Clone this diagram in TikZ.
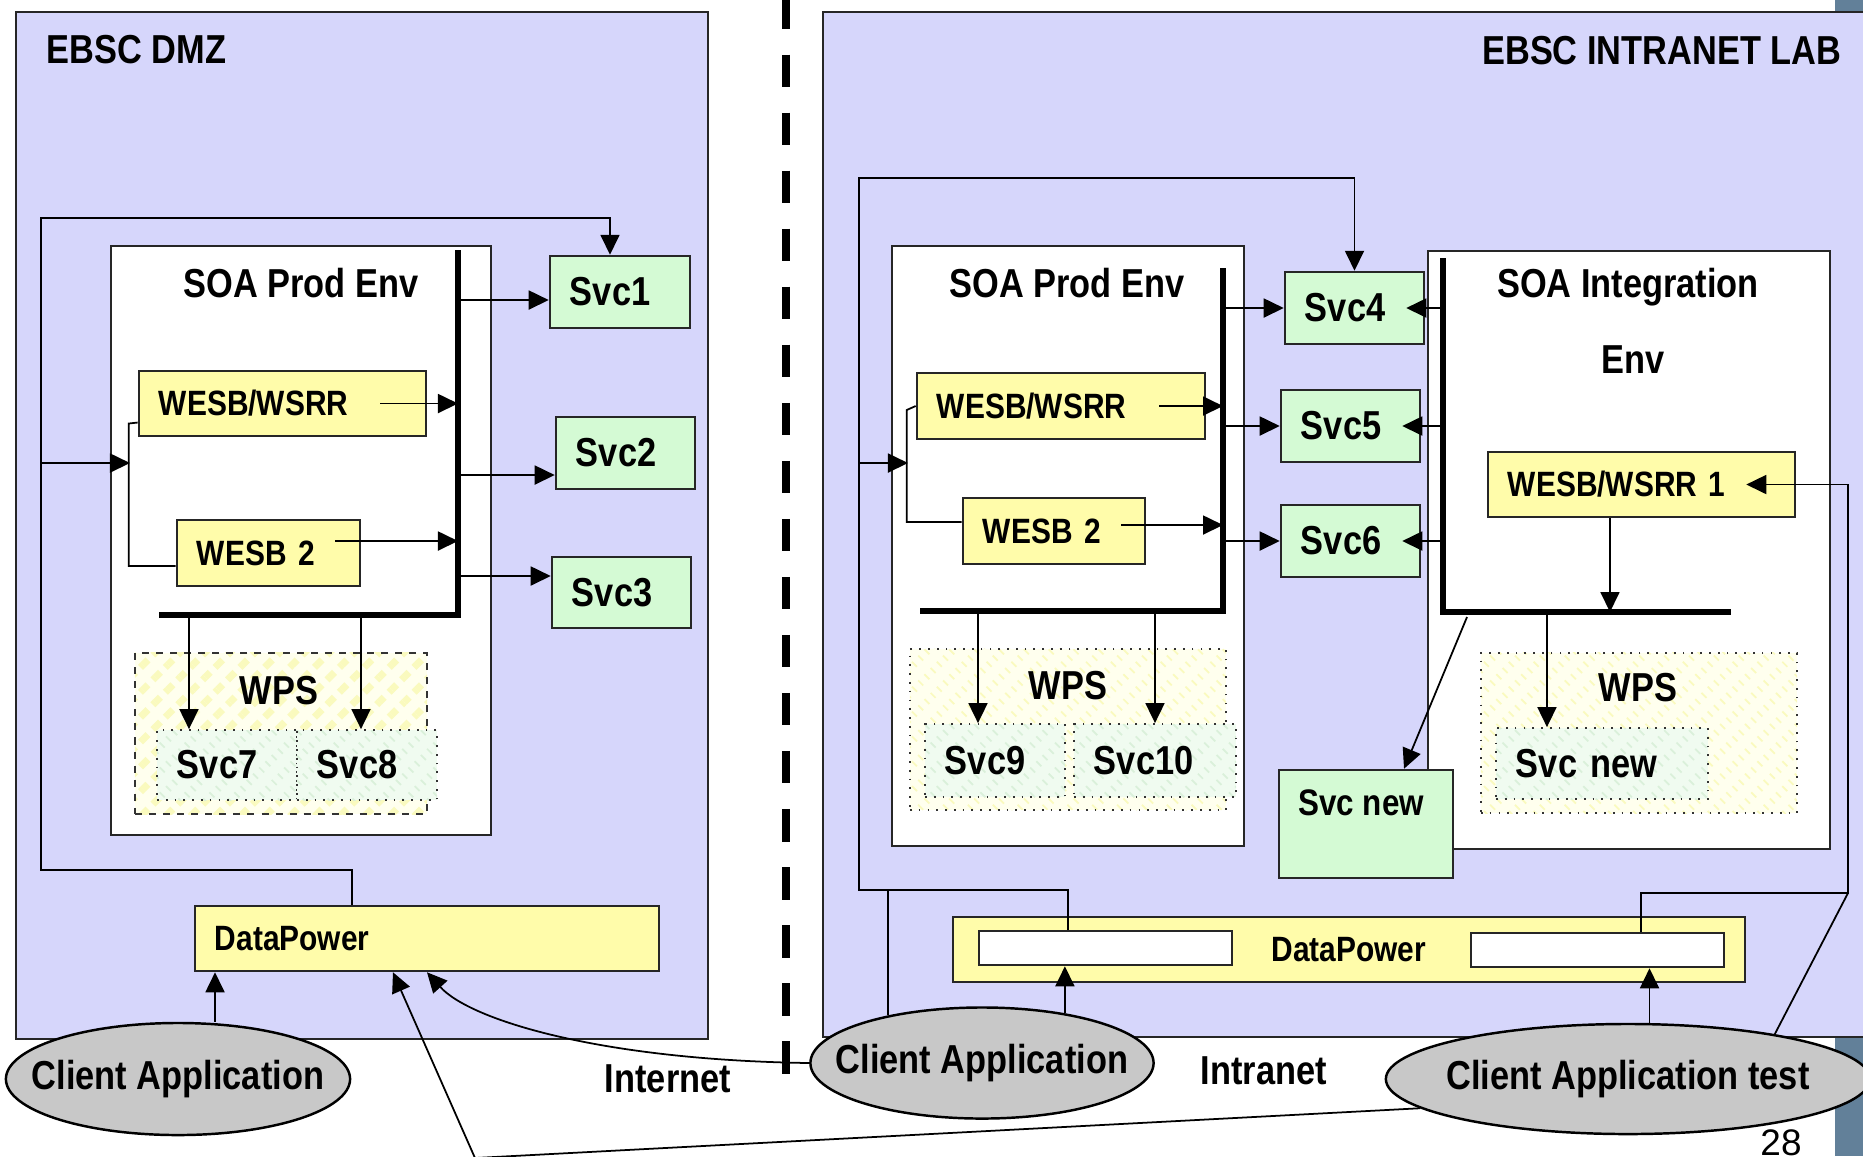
\documentclass[tikz,border=0pt]{standalone}
\usepackage{fontspec}
\setmainfont{Liberation Sans}[FakeStretch=0.85]
\newfontfamily\pagefont{Liberation Sans}
\usetikzlibrary{arrows.meta,shapes.geometric,patterns.meta}

\definecolor{zonebg}{RGB}{214,214,251}
\definecolor{esbyellow}{RGB}{255,252,170}
\definecolor{svcgreen}{RGB}{212,250,212}
\definecolor{clientgray}{RGB}{200,200,200}
\definecolor{slidebar}{RGB}{98,128,153}
\definecolor{wpsbase}{RGB}{255,255,238}
\definecolor{wpsstripe}{RGB}{250,250,190}
\definecolor{innerbase}{RGB}{240,251,240}
\definecolor{innerstripe}{RGB}{218,240,218}

\newcommand{\bigtxt}{\fontsize{11.5}{13.8}\selectfont\bfseries}
\newcommand{\smalltxt}{\fontsize{10}{12}\selectfont\bfseries}

\begin{document}
\begin{tikzpicture}[x=0.01cm,y=-0.01cm]
	\tikzstyle{every node}+=[inner sep=0pt]
	\tikzstyle{zone}=[draw=black!85,fill=zonebg,line width=0.6pt]
	\tikzstyle{env}=[draw=black!85,fill=white,line width=0.6pt]
	\tikzstyle{esb}=[draw=black!85,fill=esbyellow,line width=0.7pt,font=\smalltxt,align=left,inner xsep=0.2cm]
	\tikzstyle{svc}=[draw=black!85,fill=svcgreen,line width=0.7pt,font=\bigtxt,align=left,inner xsep=0.2cm]
	\tikzstyle{wps}=[draw=black!80,dotted,line width=0.5pt,preaction={fill=wpsbase},pattern={Lines[angle=45,distance=5pt,line width=2pt]},pattern color=wpsstripe]
	\tikzstyle{wpssvc}=[draw=black!80,dotted,line width=0.5pt,preaction={fill=innerbase},pattern={Lines[angle=45,distance=5pt,line width=2pt]},pattern color=innerstripe,font=\bigtxt,align=left,inner xsep=0.2cm]
	\tikzstyle{slot}=[draw=black!85,fill=white,line width=0.7pt,minimum width=2.53cm,minimum height=0.34cm]
	\tikzstyle{client}=[ellipse,draw=black,fill=clientgray,line width=0.7pt,font=\bigtxt]
	\tikzstyle{txt}=[font=\bigtxt]
	\tikzstyle{flow}=[-{Triangle[length=0.2cm,width=0.19cm]},line width=0.5pt]
	\tikzstyle{link}=[line width=0.5pt]
	\tikzstyle{bus}=[line width=1.7pt,line join=miter]
	\useasboundingbox (0,0) rectangle (1863,1156);
	\fill[slidebar] (1835,0) rectangle (1863,1156);
	\node[zone,minimum width=6.92cm,minimum height=10.27cm] (dmz) at (362,525.5) {};
	\node[zone,minimum width=10.52cm,minimum height=10.25cm] (lab) at (1349,524.5) {};
	\node[txt,anchor=base west] (dmzT) at (46,63) {EBSC DMZ};
	\node[txt,anchor=base east] (labT) at (1842,64) {EBSC INTRANET LAB};
	\draw[line width=0.08cm,dash pattern=on 0.325cm off 0.255cm] (786,-3.5) -- (786,1078);
	\node[env,minimum width=3.8cm,minimum height=5.89cm] (prodA) at (301,540.5) {};
	\node[txt,anchor=base] (prodAT) at (301,297) {SOA Prod Env};
	\node[wps,minimum width=2.92cm,minimum height=1.61cm] (wpsA) at (281,733.5) {};
	\node[txt] (wpsAT) at (279,691) {WPS};
	\node[wpssvc,text width=1.0cm,minimum height=0.7cm] (svc7) at (227,765) {Svc7};
	\node[wpssvc,text width=1.0cm,minimum height=0.7cm] (svc8) at (367,765) {Svc8};
	\node[esb,text width=2.47cm,minimum height=0.65cm] (wesbA) at (282.5,403.5) {WESB/WSRR};
	\node[esb,text width=1.43cm,minimum height=0.66cm] (wesbB) at (268.5,553) {WESB 2};
	\node[svc,text width=1.0cm,minimum height=0.72cm] (svc1) at (620,292) {Svc1};
	\node[svc,text width=0.99cm,minimum height=0.72cm] (svc2) at (625.5,453) {Svc2};
	\node[svc,text width=0.99cm,minimum height=0.71cm] (svc3) at (621.5,592.5) {Svc3};
	\node[esb,text width=4.24cm,minimum height=0.65cm] (dp1) at (427,938.5) {DataPower};
	\node[client,minimum width=3.44cm,minimum height=1.12cm] (ca1) at (178,1079) {\makebox[0pt]{Client Application}};
	\node[env,minimum width=3.52cm,minimum height=6cm] (prodB) at (1068,546) {};
	\node[txt,anchor=base] (prodBT) at (1067,297) {SOA Prod Env};
	\node[wps,minimum width=3.16cm,minimum height=1.61cm] (wpsB) at (1068,729.5) {};
	\node[txt] (wpsBT) at (1068,686) {WPS};
	\node[wpssvc,text width=1.0cm,minimum height=0.73cm] (svc9) at (995,760.5) {Svc9};
	\node[wpssvc,text width=1.22cm,minimum height=0.73cm] (svc10) at (1155,760.5) {Svc10};
	\node[esb,text width=2.48cm,minimum height=0.66cm] (wesbC) at (1061,406) {WESB/WSRR};
	\node[esb,text width=1.42cm,minimum height=0.66cm] (wesbD) at (1054,531) {WESB 2};
	\node[svc,text width=0.99cm,minimum height=0.72cm] (svc4) at (1354.5,308) {Svc4};
	\node[svc,text width=0.99cm,minimum height=0.72cm] (svc5) at (1350.5,426) {Svc5};
	\node[svc,text width=0.99cm,minimum height=0.72cm] (svc6) at (1350.5,541) {Svc6};
	\node[env,minimum width=4.02cm,minimum height=5.98cm] (intC) at (1629,550) {};
	\node[txt,anchor=base] (intT1) at (1628,297) {SOA Integration};
	\node[txt,anchor=base] (intT2) at (1633,373) {Env};
	\node[wps,minimum width=3.16cm,minimum height=1.6cm] (wpsC) at (1639,733) {};
	\node[txt] (wpsCT) at (1638,688) {WPS};
	\node[wpssvc,text width=1.72cm,minimum height=0.71cm] (svcN) at (1602,763.5) {Svc new};
	\node[esb,text width=2.67cm,minimum height=0.65cm] (wesbE) at (1641.5,484.5) {WESB/WSRR 1};
	\node[svc,minimum width=1.74cm,minimum height=1.08cm] (svcO) at (1366,824) {};
	\node[font=\fontsize{10.5}{12}\selectfont\bfseries,anchor=north west] (svcOT) at ([xshift=0.2cm,yshift=-0.2cm]svcO.north west) {Svc new};
	\node[esb,align=center,minimum width=7.92cm,minimum height=0.65cm] (dp2) at (1349,949.5) {DataPower};
	\node[slot] (wl) at (1105.5,948) {};
	\node[slot] (wr) at (1597.5,950) {};
	\node[client,minimum width=3.43cm,minimum height=1.11cm] (ca2) at (982,1063) {\makebox[0pt]{Client Application}};
	\node[client,minimum width=4.84cm,minimum height=1.1cm] (cat) at (1628,1079) {\makebox[0pt]{Client Application test}};
	\node[txt,anchor=base] (inet) at (668,1092) {Internet};
	\node[txt,anchor=base] (intra) at (1264,1084) {Intranet};
	\node[font=\pagefont\fontsize{10.5}{12}\selectfont,anchor=north] (pg) at (1781,1129) {28};
	\coordinate (busAt) at (458,250);
	\coordinate (busAc) at (458,615);
	\coordinate (busAl) at (159,615);
	\coordinate (loopAb) at (41,870);
	\coordinate (loopAt) at (41,218);
	\coordinate (forkA) at (130,463);
	\coordinate (wAout) at ([xshift=-0.47cm]wesbA.east);
	\coordinate (wBout) at ([xshift=-0.26cm,yshift=0.12cm]wesbB.east);
	\coordinate (s1in) at ([yshift=-0.08cm]svc1.west);
	\coordinate (s2in) at ([yshift=-0.22cm]svc2.west);
	\coordinate (s3in) at ([yshift=0.165cm]svc3.west);
	\coordinate (s7in) at ([xshift=-0.38cm]svc7.north);
	\coordinate (s8in) at ([xshift=-0.06cm]svc8.north);
	\coordinate (ca1out) at ([xshift=0.37cm]ca1.north);
	\coordinate (bend) at (475,1158);
	\draw[bus] (busAt) -- (busAc) -- (busAl);
	\draw[flow] ([xshift=-0.75cm]dp1.north) |- (loopAb) -- (loopAt) -| ([xshift=-0.1cm]svc1.north);
	\draw[flow] (loopAt |- forkA) -- (forkA);
	\draw[link] ([yshift=-0.19cm]wesbA.west) -- ++(-9,1) |- ([yshift=-0.13cm]wesbB.west);
	\draw[flow] (wAout) -- (wAout -| busAt);
	\draw[flow] (wBout) -- (wBout -| busAt);
	\draw[flow] (s1in -| busAt) -- (s1in);
	\draw[flow] (s2in -| busAt) -- (s2in);
	\draw[flow] (s3in -| busAt) -- (s3in);
	\draw[flow] (s7in |- busAc) -- (s7in);
	\draw[flow] (s8in |- busAc) -- (s8in);
	\draw[flow] (ca1out) -- (ca1out |- dp1.south);
	\draw[flow] (ca2.west) .. controls (600,1060) and (470,1020) .. (dp1.south);
	\draw[flow] (cat.188) -- (bend) -- ([xshift=-0.34cm]dp1.south);
	\coordinate (busBt) at (1223,268);
	\coordinate (busBc) at (1223,611);
	\coordinate (busBl) at (920,611);
	\coordinate (busCt) at (1443,258);
	\coordinate (busCc) at (1443,612);
	\coordinate (busCr) at (1731,612);
	\coordinate (loopBb) at (859,890);
	\coordinate (loopBt) at (859,178);
	\coordinate (forkB) at (908,463);
	\coordinate (loopCb) at (1848,893);
	\coordinate (wCout) at ([xshift=-0.47cm]wesbC.east);
	\coordinate (wDout) at ([xshift=-0.25cm,yshift=0.06cm]wesbD.east);
	\coordinate (wEout) at ([xshift=-0.315cm]wesbE.south);
	\coordinate (s9in) at ([xshift=-0.17cm]svc9.north);
	\coordinate (sNin) at ([xshift=-0.55cm]svcN.north);
	\draw[bus] (busBt) -- (busBc) -- (busBl);
	\draw[bus] (busCt) -- (busCc) -- (busCr);
	\draw[flow] ([xshift=-0.375cm]wl.north) |- (loopBb) -- (loopBt) -| (svc4.north);
	\draw[link] (ca2.153) -- (ca2.153 |- loopBb);
	\draw[flow] (loopBt |- forkB) -- (forkB);
	\draw[link] (wesbC.west) -- ++(-9,4) |- ([yshift=0.09cm]wesbD.west);
	\draw[flow] (wCout) -- (wCout -| busBt);
	\draw[flow] (wDout) -- (wDout -| busBt);
	\draw[flow] (svc4.west -| busBt) -- (svc4.west);
	\draw[flow] (svc5.west -| busBt) -- (svc5.west);
	\draw[flow] (svc6.west -| busBt) -- (svc6.west);
	\draw[flow] (s9in |- busBc) -- (s9in);
	\draw[flow] (svc10.north |- busBc) -- (svc10.north);
	\draw[flow] (svc4.east -| busCt) -- ([xshift=-0.19cm]svc4.east);
	\draw[flow] (svc5.east -| busCt) -- ([xshift=-0.19cm]svc5.east);
	\draw[flow] (svc6.east -| busCt) -- ([xshift=-0.19cm]svc6.east);
	\draw[flow] (wEout) -- (wEout |- busCc);
	\draw[flow] (sNin |- busCc) -- (sNin);
	\draw[flow] ([shift={(0.24cm,-0.05cm)}]busCc) -- ([xshift=0.38cm]svcO.north);
	\draw[flow] (ca2.31) -- (ca2.31 |- wl.south);
	\draw[flow] (cat.69) -- (cat.69 |- wr.south);
	\draw[flow] ([xshift=0.435cm]wr.north) |- (loopCb) |- ([xshift=-0.5cm]wesbE.east);
	\draw[link] (loopCb) -- (cat.17);
\end{tikzpicture}
\end{document}
